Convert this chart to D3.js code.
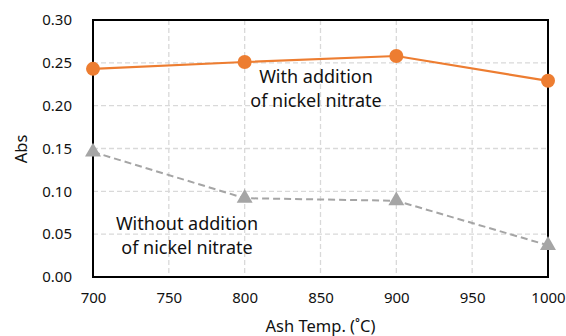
<!DOCTYPE html>
<html>
<head>
<meta charset="utf-8">
<script src="https://cdn.jsdelivr.net/npm/d3@7"></script>
<style>
  body { margin: 0; background: #fff; }
  text { font-family: "Noto Sans", "Open Sans", sans-serif; fill: #111; }
</style>
</head>
<body>
<script>
const temps = [700, 800, 900, 1000];
const withNickel = [0.243, 0.251, 0.258, 0.229];
const withoutNickel = [0.146, 0.092, 0.089, 0.037];
const xTicks = [700, 750, 800, 850, 900, 950, 1000];
const yTicks = [0, 0.05, 0.10, 0.15, 0.20, 0.25, 0.30];

const width = 566, height = 336;
const margin = { left: 93, right: 18, top: 20, bottom: 59 };

const svg = d3.select('body').append('svg')
  .attr('width', width)
  .attr('height', height);

const x = d3.scaleLinear().domain([700, 1000]).range([margin.left, width - margin.right]);
const y = d3.scaleLinear().domain([0, 0.30]).range([height - margin.bottom, margin.top]);

// grid
svg.append('g')
  .selectAll('line')
  .data(xTicks.slice(1, -1))
  .join('line')
  .attr('x1', d => x(d)).attr('x2', d => x(d))
  .attr('y1', y(0.30)).attr('y2', y(0))
  .attr('stroke', '#d9d9d9').attr('stroke-width', 1.3)
  .attr('stroke-dasharray', '5,3');

svg.append('g')
  .selectAll('line')
  .data(yTicks.slice(1, -1))
  .join('line')
  .attr('x1', x(700)).attr('x2', x(1000))
  .attr('y1', d => y(d)).attr('y2', d => y(d))
  .attr('stroke', '#d9d9d9').attr('stroke-width', 1.3)
  .attr('stroke-dasharray', '5,3');

// axes
const xAxis = svg.append('g')
  .attr('transform', `translate(0,${ y(0) })`)
  .call(d3.axisBottom(x).tickValues(xTicks).tickSize(0).tickPadding(15).tickFormat(d3.format('d')));
const yAxis = svg.append('g')
  .attr('transform', `translate(${ x(700) },0)`)
  .call(d3.axisLeft(y).tickValues(yTicks).tickSize(0).tickPadding(21).tickFormat(d3.format('.2f')));
[xAxis, yAxis].forEach(a => {
  a.select('.domain').remove();
  a.selectAll('text').style('font-size', '15px').attr('fill', '#111');
});

// frame
svg.append('rect')
  .attr('x', x(700)).attr('y', y(0.30))
  .attr('width', x(1000) - x(700)).attr('height', y(0) - y(0.30))
  .attr('fill', 'none').attr('stroke', '#000').attr('stroke-width', 2);

const line = d3.line().x((d, i) => x(temps[i])).y(d => y(d));

// without nickel
svg.append('path')
  .datum(withoutNickel)
  .attr('d', line)
  .attr('fill', 'none').attr('stroke', '#a5a5a5').attr('stroke-width', 2)
  .attr('stroke-dasharray', '7,4');
svg.append('g')
  .selectAll('path')
  .data(withoutNickel)
  .join('path')
  .attr('d', d3.symbol(d3.symbolTriangle, 110))
  .attr('transform', (d, i) => `translate(${ x(temps[i]) },${ y(d) })`)
  .attr('fill', '#a5a5a5');

// with nickel
svg.append('path')
  .datum(withNickel)
  .attr('d', line)
  .attr('fill', 'none').attr('stroke', '#ed7d31').attr('stroke-width', 2.2);
svg.append('g')
  .selectAll('circle')
  .data(withNickel)
  .join('circle')
  .attr('cx', (d, i) => x(temps[i]))
  .attr('cy', d => y(d))
  .attr('r', 7)
  .attr('fill', '#ed7d31');

// annotations, one text per line
const note = (cx, cy, lines) => {
  lines.forEach((s, i) => svg.append('text')
    .attr('x', cx).attr('y', cy + i * 24)
    .attr('text-anchor', 'middle')
    .style('font-size', '18px')
    .text(s));
};
note(316, 83, ['With addition', 'of nickel nitrate']);
note(187, 230, ['Without addition', 'of nickel nitrate']);

// axis titles
svg.append('text')
  .attr('x', (x(700) + x(1000)) / 2).attr('y', 332)
  .attr('text-anchor', 'middle')
  .style('font-size', '16.5px')
  .text('Ash Temp. (˚C)');
svg.append('text')
  .attr('transform', `translate(27,${ 149 }) rotate(-90)`)
  .attr('text-anchor', 'middle')
  .style('font-size', '16.5px')
  .text('Abs');
</script>
</body>
</html>
